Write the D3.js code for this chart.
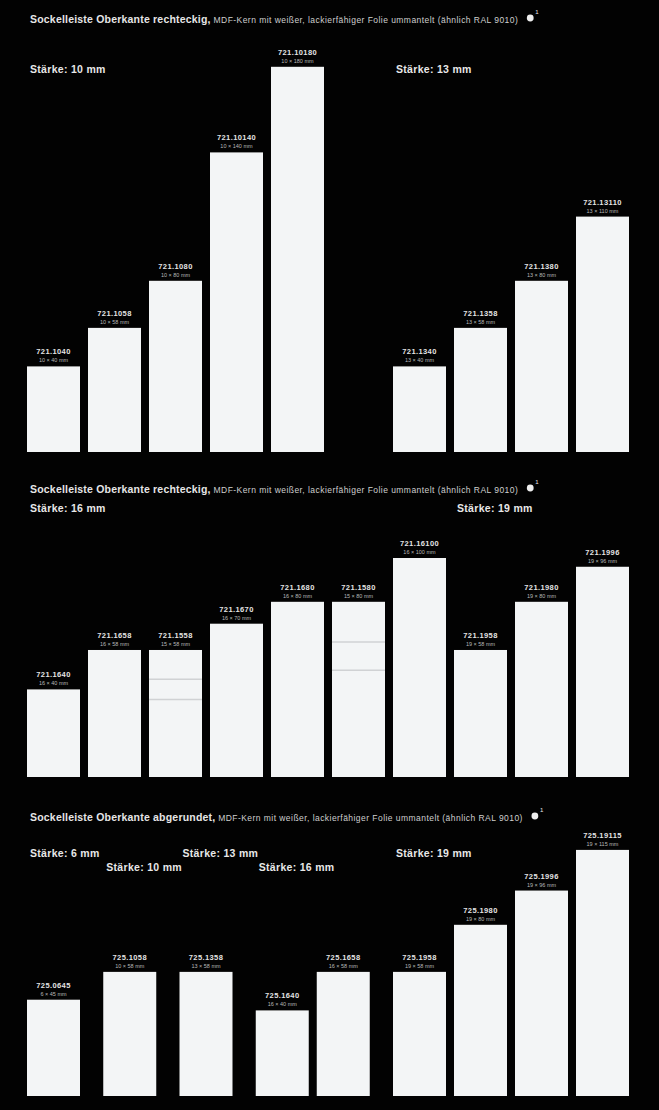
<!DOCTYPE html>
<html>
<head>
  <title>Sockelleisten</title>
  <meta charset="utf-8">
  <style>
    body{
      background-color:#000;
      margin: 0;
      padding: 0;
    }
    .chart{
      display: block;
      background:#020202;
    }
    .title{ font-family:"Liberation Sans", Arial, sans-serif; fill:#e6e6e6; }
    .staerke{ font-family:"Liberation Sans", Arial, sans-serif; font-weight:bold; font-size:10.5px; fill:#e8e8e8; letter-spacing:0.3px; }
    .code{ font-family:"Liberation Sans", Arial, sans-serif; font-weight:bold; font-size:7.5px; fill:#e4e4e4; letter-spacing:0.4px; }
    .dims{ font-family:"Liberation Sans", Arial, sans-serif; font-size:5.5px; fill:#b8b8b8; }
    .bar{ fill:#f3f5f6; }
    .stripe{ stroke:#d0d2d4; stroke-width:1.5; }
  </style>
</head>
<body>
<svg class="chart"></svg>

<script src="https://cdnjs.cloudflare.com/ajax/libs/d3/7.8.5/d3.min.js"></script>
<script>

// Panel 1 - rechteckig, 10 mm / 13 mm
var p1Groups = ["10 mm", "13 mm"];
var p1Codes  = ["721.1040", "721.1058", "721.1080", "721.10140", "721.10180", "721.1340", "721.1358", "721.1380", "721.13110"];
var p1Dims   = ["10 × 40 mm", "10 × 58 mm", "10 × 80 mm", "10 × 140 mm", "10 × 180 mm", "13 × 40 mm", "13 × 58 mm", "13 × 80 mm", "13 × 110 mm"];
var p1Height = [40, 58, 80, 140, 180, 40, 58, 80, 110];
var p1Group  = [0, 0, 0, 0, 0, 1, 1, 1, 1];

// Panel 2 - rechteckig, 16 mm / 19 mm
var p2Groups = ["16 mm", "19 mm"];
var p2Codes  = ["721.1640", "721.1658", "721.1558", "721.1670", "721.1680", "721.1580", "721.16100", "721.1958", "721.1980", "721.1996"];
var p2Dims   = ["16 × 40 mm", "16 × 58 mm", "15 × 58 mm", "16 × 70 mm", "16 × 80 mm", "15 × 80 mm", "16 × 100 mm", "19 × 58 mm", "19 × 80 mm", "19 × 96 mm"];
var p2Height = [40, 58, 58, 70, 80, 80, 100, 58, 80, 96];
var p2Group  = [0, 0, 0, 0, 0, 0, 0, 1, 1, 1];

// Panel 3 - abgerundet
var p3Groups = ["6 mm", "10 mm", "13 mm", "16 mm", "19 mm"];
var p3Codes  = ["725.0645", "725.1058", "725.1358", "725.1640", "725.1658", "725.1958", "725.1980", "725.1996", "725.19115"];
var p3Dims   = ["6 × 45 mm", "10 × 58 mm", "13 × 58 mm", "16 × 40 mm", "16 × 58 mm", "19 × 58 mm", "19 × 80 mm", "19 × 96 mm", "19 × 115 mm"];
var p3Height = [45, 58, 58, 40, 58, 58, 80, 96, 115];
var p3Group  = [0, 1, 2, 3, 3, 4, 4, 4, 4];

var titleBold = ["Sockelleiste Oberkante rechteckig,", "Sockelleiste Oberkante rechteckig,", "Sockelleiste Oberkante abgerundet,"];
var titleRest = " MDF-Kern mit weißer, lackierfähiger Folie ummantelt (ähnlich RAL 9010)";

var width = 659, height = 1110;
var barW = 53;

var svg = d3.select(".chart")
    .attr("width", width)
    .attr("height", height);

svg.append("rect").attr("width", width).attr("height", height).attr("fill", "#020202");

var panels = [
  {groups:p1Groups, codes:p1Codes, dims:p1Dims, h:p1Height, g:p1Group, title:titleBold[0],
   titleY:23, labelY:[73, 73], base:452, pxmm:2.14, gap:1},
  {groups:p2Groups, codes:p2Codes, dims:p2Dims, h:p2Height, g:p2Group, title:titleBold[1],
   titleY:493, labelY:[512, 512], base:777, pxmm:2.19, gap:0},
  {groups:p3Groups, codes:p3Codes, dims:p3Dims, h:p3Height, g:p3Group, title:titleBold[2],
   titleY:821, labelY:[857, 871], base:1096, pxmm:2.14, gap:0.25}
];

panels.forEach(function(p, pi) {
  var data = p.codes.map(function(c, i) {
    return {code:c, dims:p.dims[i], mm:p.h[i], group:p.g[i], slot:i + p.g[i] * p.gap};
  });

  var x = d3.scaleLinear().domain([0, 1]).range([27, 88]);
  var y = d3.scaleLinear().domain([0, 100]).range([p.base, p.base - 100 * p.pxmm]);

  // title
  var t = svg.append("text").attr("class", "title")
      .attr("x", 30).attr("y", p.titleY);
  t.append("tspan").attr("font-weight", "bold").attr("font-size", "10.5px")
      .attr("letter-spacing", "0.2px").text(p.title);
  t.append("tspan").attr("font-size", "8.5px").attr("letter-spacing", "0.45px")
      .attr("fill", "#cfcfcf").text(titleRest);
  var tw = t.node().getComputedTextLength();
  svg.append("circle").attr("cx", 30 + tw + 12).attr("cy", p.titleY - 5).attr("r", 3.4).attr("fill", "#eee");
  svg.append("text").attr("class", "title").attr("font-size", "6px")
      .attr("x", 30 + tw + 17).attr("y", p.titleY - 9).text("1");

  // Stärke labels
  p.groups.forEach(function(gname, gi) {
    var first = data.filter(function(d) { return d.group === gi; })[0];
    svg.append("text").attr("class", "staerke")
        .attr("x", x(first.slot) + 3)
        .attr("y", p.labelY[gi % 2])
        .text("Stärke: " + gname);
  });

  var g = svg.append("g");

  g.selectAll(".bar")
      .data(data)
      .enter().append("rect")
      .attr("class", "bar")
      .attr("x", function(d) { return x(d.slot); })
      .attr("width", barW)
      .attr("y", function(d) { return y(d.mm); })
      .attr("height", function(d) { return p.base - y(d.mm); });

  // faint seams visible on the 15 mm boards (middle panel), measured from the top edge
  if (pi === 1) {
    var seams = data.filter(function(d) { return d.dims.indexOf("15") === 0; });
    [0.23, 0.39].forEach(function(f) {
      g.selectAll(null)
          .data(seams)
          .enter().append("line")
          .attr("class", "stripe")
          .attr("x1", function(d) { return x(d.slot); })
          .attr("x2", function(d) { return x(d.slot) + barW; })
          .attr("y1", function(d) { return y(d.mm * (1 - f)); })
          .attr("y2", function(d) { return y(d.mm * (1 - f)); });
    });
  }

  g.selectAll(".code")
      .data(data)
      .enter().append("text")
      .attr("class", "code")
      .attr("text-anchor", "middle")
      .attr("x", function(d) { return x(d.slot) + barW / 2; })
      .attr("y", function(d) { return y(d.mm) - 12; })
      .text(function(d) { return d.code; });

  g.selectAll(".dims")
      .data(data)
      .enter().append("text")
      .attr("class", "dims")
      .attr("text-anchor", "middle")
      .attr("x", function(d) { return x(d.slot) + barW / 2; })
      .attr("y", function(d) { return y(d.mm) - 4; })
      .text(function(d) { return d.dims; });
});

</script>
</body>
</html>
